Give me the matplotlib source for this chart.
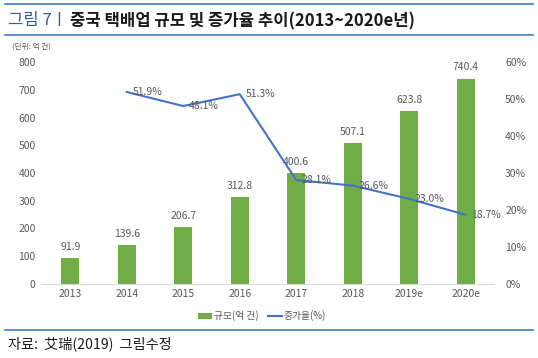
import matplotlib
matplotlib.use("Agg")
import matplotlib.pyplot as plt
from matplotlib.lines import Line2D
from matplotlib.patches import Patch

plt.rcParams['font.family'] = ['Noto Sans CJK KR', 'DejaVu Sans']

years = ['2013', '2014', '2015', '2016', '2017', '2018', '2019e', '2020e']
volume = [91.9, 139.6, 206.7, 312.8, 400.6, 507.1, 623.8, 740.4]
growth_years = ['2014', '2015', '2016', '2017', '2018', '2019e', '2020e']
growth = [51.9, 48.1, 51.3, 28.1, 26.6, 23.0, 18.7]

W, H = 538, 358
fig = plt.figure(figsize=(W/100, H/100), dpi=100)

gray = '#595959'
blue_rule = '#3A7DC9'
title_blue = '#2F5E9E'
green = '#70AD47'
line_blue = '#4472C4'

def fx(px):
    return px / W

def fy(py):
    return 1 - py / H

ax = fig.add_axes([fx(42), fy(284), fx(494) - fx(42), fy(62) - fy(284)])
x = list(range(len(years)))
ax.bar(x, volume, width=0.32, color=green, zorder=2)
for xi, v in zip(x, volume):
    ax.text(xi, v + 22, f'{v:.1f}', ha='center', va='bottom', fontsize=7.5, color=gray)
ax.set_ylim(0, 800)
ax.set_xlim(-0.5, len(years) - 0.5)
ax.set_yticks(range(0, 801, 100))
ax.set_xticks(x)
ax.set_xticklabels(years)
ax.tick_params(axis='both', length=0, labelsize=7.5, labelcolor=gray)
ax.tick_params(axis='y', pad=4.5)
for s in ['top', 'right', 'left']:
    ax.spines[s].set_visible(False)
ax.spines['bottom'].set_color('#D9D9D9')

ax2 = ax.twinx()
gx = [years.index(g) for g in growth_years]
ax2.plot(gx, growth, color=line_blue, lw=1.5, zorder=3)
for xi, v in zip(gx, growth):
    ax2.text(xi + 0.1, v, f'{v:.1f}%', ha='left', va='center', fontsize=7.5, color=gray)
ax2.set_ylim(0, 60)
ax2.set_yticks(range(0, 61, 10))
ax2.set_yticklabels([f'{t}%' for t in range(0, 61, 10)])
ax2.tick_params(axis='y', length=0, labelsize=7.5, labelcolor=gray, pad=8)
for s in ['top', 'right', 'left', 'bottom']:
    ax2.spines[s].set_visible(False)

# rules
for py in [4, 35, 330]:
    fig.add_artist(Line2D([fx(5), fx(533)], [fy(py), fy(py)], color=blue_rule, lw=1.2))

# title
fig.text(fx(8), fy(21), '그림 7ㅣ', fontsize=12, color=title_blue, va='center', ha='left')
fig.text(fx(70), fy(21), '중국 택배업 규모 및 증가율 추이(2013~2020e년)', fontsize=12, color='#1a1a1a',
         fontweight='bold', va='center', ha='left')
fig.text(fx(12), fy(47), '(단위: 억 건)', fontsize=5.5, color=gray, va='center', ha='left')

# legend
handles = [Patch(facecolor=green, edgecolor='none', label='규모(억 건)'),
           Line2D([0], [0], color=line_blue, lw=1.5, label='증가율(%)')]
fig.legend(handles=handles, loc='center', bbox_to_anchor=(fx(262), fy(316)), ncol=2, frameon=False,
           fontsize=7, labelcolor=gray, handlelength=1.4, handleheight=0.6, handletextpad=0.2,
           columnspacing=1.0)

fig.text(fx(8), fy(344), '자료:  艾瑞(2019)  그림수정', fontsize=10.2, color='#1a1a1a', va='center', ha='left',
         family=['Noto Sans CJK KR', 'Noto Sans CJK SC', 'DejaVu Sans'])

fig.savefig('out.png', dpi=100)
